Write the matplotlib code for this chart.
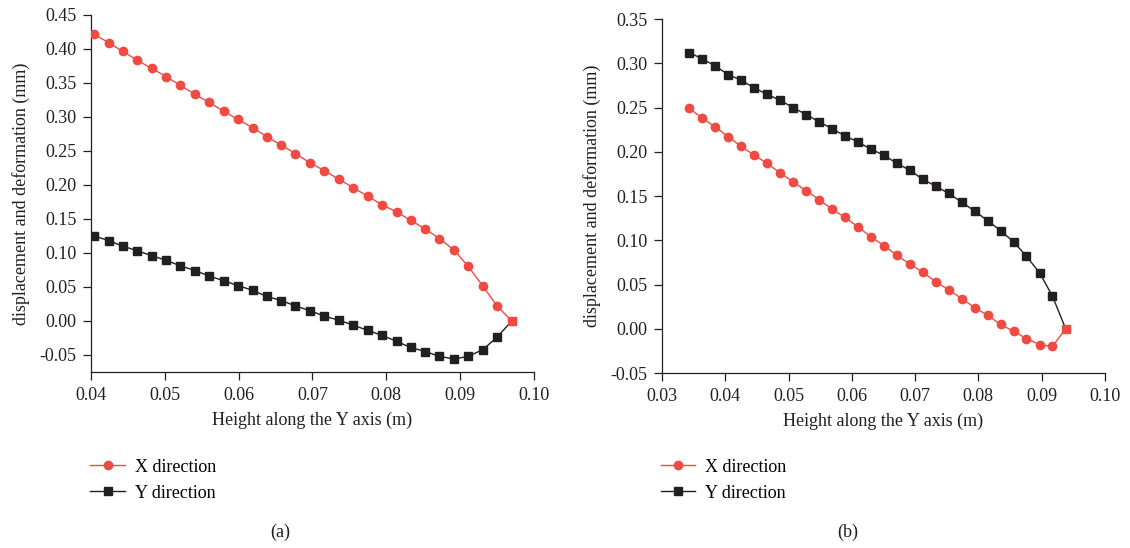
import matplotlib

matplotlib.use("Agg")
import matplotlib.pyplot as plt
from matplotlib.lines import Line2D
from matplotlib.ticker import FormatStrFormatter, MultipleLocator

RED = "#ef4b43"
BLACK = "#231f20"

# panel (a): displacement along the height (m -> mm)
height_a = [0.0404, 0.0424, 0.0443, 0.0463, 0.0482, 0.0502, 0.0521, 0.0541, 0.0560, 0.0580,
            0.0599, 0.0619, 0.0638, 0.0658, 0.0677, 0.0697, 0.0716, 0.0736, 0.0755, 0.0775,
            0.0794, 0.0814, 0.0833, 0.0853, 0.0872, 0.0892, 0.0911, 0.0931, 0.0950, 0.0970]
x_dir_a = [0.421, 0.409, 0.396, 0.383, 0.371, 0.359, 0.346, 0.333, 0.321, 0.308,
           0.296, 0.284, 0.271, 0.258, 0.246, 0.232, 0.221, 0.208, 0.196, 0.183,
           0.171, 0.160, 0.148, 0.135, 0.121, 0.104, 0.080, 0.051, 0.022, 0.000]
y_dir_a = [0.125, 0.118, 0.110, 0.103, 0.096, 0.089, 0.081, 0.074, 0.066, 0.059,
           0.052, 0.045, 0.036, 0.030, 0.022, 0.015, 0.007, 0.001, -0.006, -0.014,
           -0.021, -0.030, -0.039, -0.045, -0.052, -0.056, -0.052, -0.042, -0.024, 0.000]

# panel (b)
height_b = [0.0343, 0.0364, 0.0384, 0.0405, 0.0425, 0.0446, 0.0466, 0.0487, 0.0507, 0.0528,
            0.0548, 0.0569, 0.0589, 0.0610, 0.0630, 0.0651, 0.0671, 0.0692, 0.0712, 0.0733,
            0.0753, 0.0774, 0.0794, 0.0815, 0.0835, 0.0856, 0.0876, 0.0897, 0.0917, 0.0938]
x_dir_b = [0.249, 0.238, 0.228, 0.217, 0.206, 0.196, 0.187, 0.176, 0.166, 0.156,
           0.146, 0.135, 0.126, 0.115, 0.104, 0.094, 0.083, 0.073, 0.064, 0.053,
           0.044, 0.034, 0.024, 0.015, 0.005, -0.003, -0.011, -0.018, -0.020, 0.000]
y_dir_b = [0.312, 0.305, 0.297, 0.287, 0.281, 0.272, 0.265, 0.258, 0.250, 0.242,
           0.234, 0.226, 0.218, 0.211, 0.203, 0.196, 0.187, 0.179, 0.169, 0.161,
           0.153, 0.143, 0.133, 0.122, 0.111, 0.098, 0.082, 0.063, 0.037, 0.000]

series_labels = ["X direction", "Y direction"]
x_label = "Height along the Y axis (m)"
y_label = "displacement and deformation (mm)"

plt.rcParams["font.family"] = ["Liberation Serif", "DejaVu Serif"]
plt.rcParams["axes.unicode_minus"] = False

FS = 13


def draw_panel(ax, height, x_dir, y_dir, xlim, ylim):
    ax.plot(height, y_dir, color=BLACK, lw=1.0, marker="s", ms=6, markevery=slice(0, -1), zorder=3)
    ax.plot(height, x_dir, color=RED, lw=1.0, marker="o", ms=6, markevery=slice(0, -1), zorder=4)
    # shared end point drawn as a red square
    ax.plot(height[-1], x_dir[-1], ls="none", marker="s", ms=6, color=RED, zorder=5)

    ax.set_xlim(*xlim)
    ax.set_ylim(*ylim)
    ax.xaxis.set_major_locator(MultipleLocator(0.01))
    ax.yaxis.set_major_locator(MultipleLocator(0.05))
    ax.xaxis.set_major_formatter(FormatStrFormatter("%.2f"))
    ax.yaxis.set_major_formatter(FormatStrFormatter("%.2f"))
    for side in ("top", "right"):
        ax.spines[side].set_visible(False)
    for side in ("left", "bottom"):
        ax.spines[side].set_color(BLACK)
        ax.spines[side].set_linewidth(0.9)
    ax.tick_params(direction="out", length=5.5, width=0.9, color=BLACK,
                   labelsize=FS, labelcolor=BLACK, pad=5)
    ax.set_xlabel(x_label, fontsize=FS, color=BLACK, labelpad=6)
    ax.set_ylabel(y_label, fontsize=FS, color=BLACK, labelpad=7)


fig = plt.figure(figsize=(11.3, 5.48), dpi=100)
ax_a = fig.add_axes([0.0805, 0.3212, 0.392, 0.652])
ax_b = fig.add_axes([0.5858, 0.3193, 0.392, 0.646])

draw_panel(ax_a, height_a, x_dir_a, y_dir_a, (0.04, 0.10), (-0.075, 0.45))
draw_panel(ax_b, height_b, x_dir_b, y_dir_b, (0.03, 0.10), (-0.05, 0.35))

handles = [
    Line2D([], [], color=RED, lw=1.0, marker="o", ms=6),
    Line2D([], [], color=BLACK, lw=1.0, marker="s", ms=6),
]
for left, caption, cx in ((0.080, "(a)", 0.248), (0.585, "(b)", 0.750)):
    fig.legend(handles, series_labels, loc="upper left", bbox_to_anchor=(left, 0.163),
               frameon=False, fontsize=FS, handlelength=1.9, handletextpad=0.55,
               labelspacing=0.5, borderpad=0, borderaxespad=0)
    fig.text(cx, 0.029, caption, ha="center", va="center", fontsize=FS, color=BLACK)

fig.savefig("out.png", dpi=100)
